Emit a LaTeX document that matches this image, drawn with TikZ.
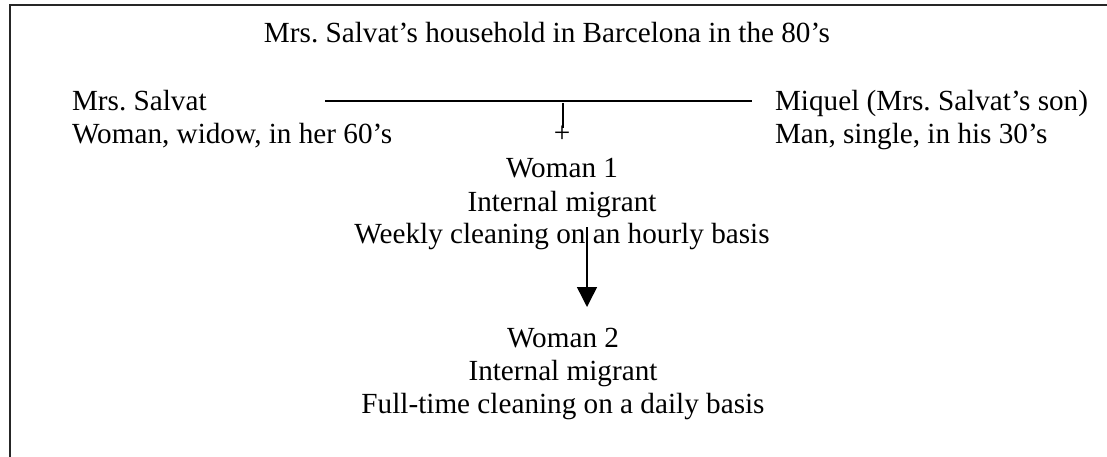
\documentclass[tikz,border=0pt]{standalone}
\usepackage{fontspec}
\setmainfont{Liberation Serif}
\usetikzlibrary{arrows.meta}
\frenchspacing
\tikzset{
  txt/.style={inner sep=0pt, outer sep=0pt, font=\fontsize{29.2}{33}\selectfont},
  frameline/.style={line width=1.5pt, draw=black!85},
  conn/.style={line width=1.5pt},
  arr/.style={line width=1.5pt, -{Triangle[width=20pt,length=20pt]}}
}
\begin{document}
\begin{tikzpicture}[x=1pt,y=-1pt]
\useasboundingbox (0,0) rectangle (1107,457);
% frame (top and left sides only)
\draw[frameline] (10,457) -- (10,5) -- (1107,5);
% title
\node[txt, anchor=base] (title) at (547,43) {Mrs. Salvat’s household in Barcelona in the 80’s};
% people
\node[txt, anchor=base west] (salvat) at (72,111)
  {\begin{tabular}[t]{@{}l@{}}Mrs. Salvat\\Woman, widow, in her 60’s\end{tabular}};
\node[txt, anchor=base west] (miquel) at (775,111)
  {\begin{tabular}[t]{@{}l@{}}Miquel (Mrs. Salvat’s son)\\Man, single, in his 30’s\end{tabular}};
% connector between them
\coordinate (hl) at (325,101);
\coordinate (hr) at (752,101);
\draw[conn] (hl) -- (hr);
\coordinate (tt) at (563,103);
\coordinate (tb) at (563,128);
\draw[conn] (tt) -- (tb);
\node[txt, anchor=base] (plus) at (562,143) {+};
% women
\node[txt, anchor=base] (w1) at (562,178)
  {\begin{tabular}[t]{@{}c@{}}Woman 1\\Internal migrant\\Weekly cleaning on an hourly basis\end{tabular}};
\node[txt, anchor=base] (w2) at (563,347)
  {\begin{tabular}[t]{@{}c@{}}Woman 2\\Internal migrant\\Full-time cleaning on a daily basis\end{tabular}};
\coordinate (as) at (587,227);
\coordinate (ae) at (587,307);
\draw[arr] (as) -- (ae);
\end{tikzpicture}
\end{document}
